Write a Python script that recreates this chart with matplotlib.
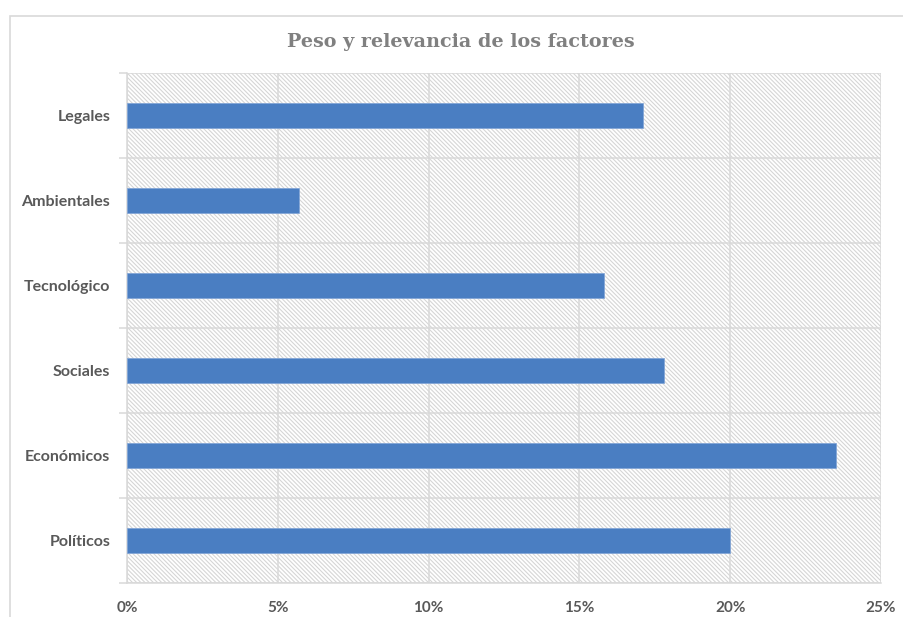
import matplotlib
matplotlib.use("Agg")
import matplotlib.pyplot as plt
from matplotlib.patches import Rectangle
from matplotlib.ticker import FuncFormatter, FixedLocator

categories = ["Políticos", "Económicos", "Sociales", "Tecnológico", "Ambientales", "Legales"]
values = [20.0, 23.5, 17.8, 15.8, 5.7, 17.1]
xticks = [0, 5, 10, 15, 20, 25]
title = "Peso y relevancia de los factores"

plt.rcParams['hatch.color'] = '#d6d6d6'
plt.rcParams['hatch.linewidth'] = 0.8

W, H = 904, 617
fig = plt.figure(figsize=(W / 100, H / 100), dpi=100)
fig.patch.set_facecolor('white')

# outer chart border
fig.add_artist(Rectangle((10 / W, -0.05), 1.0, 1 - 16 / H + 0.05, transform=fig.transFigure,
                         fill=False, edgecolor='#d9d9d9', linewidth=1.2))

ax = fig.add_axes([127 / W, 1 - 583 / H, (881 - 127) / W, (583 - 73) / H])
ax.patch.set_facecolor('white')
ax.patch.set_hatch('\\' * 8)
ax.patch.set_edgecolor('#d6d6d6')

ypos = list(range(len(categories)))
ax.barh(ypos, values, height=0.29, color='#4A7EC2', edgecolor='#7fa3d6', linewidth=0.5, zorder=3)

ax.set_xlim(0, 25)
ax.set_ylim(-0.5, len(categories) - 0.5)

ax.set_xticks(xticks)
ax.xaxis.set_major_formatter(FuncFormatter(lambda v, p: f"{int(v)}%"))
ax.set_yticks(ypos)
ax.set_yticklabels(categories)
ax.yaxis.set_minor_locator(FixedLocator([i - 0.5 for i in range(len(categories) + 1)]))

ax.grid(axis='x', which='major', color='#d9d9d9', linewidth=1.1, zorder=1)
ax.grid(axis='y', which='minor', color='#d9d9d9', linewidth=1.1, zorder=1)
ax.set_axisbelow(True)

ax.tick_params(axis='x', which='both', length=0, pad=13, labelsize=11, labelcolor='#595959')
ax.tick_params(axis='y', which='major', length=0, pad=12, labelsize=11.5, labelcolor='#595959')
ax.tick_params(axis='y', which='minor', length=6, width=1.1, color='#d9d9d9')

for lab in ax.get_xticklabels() + ax.get_yticklabels():
    lab.set_fontfamily('Lato')
    lab.set_fontweight('bold')

for s in ['top', 'right']:
    ax.spines[s].set_visible(False)
for s in ['left', 'bottom']:
    ax.spines[s].set_color('#d9d9d9')
    ax.spines[s].set_linewidth(1.1)

fig.text(461 / W, 1 - 42 / H, title, ha='center', va='center', fontsize=13.8,
         fontweight='bold', color='#808080', family='DejaVu Serif')

fig.savefig("out.png", dpi=100)
